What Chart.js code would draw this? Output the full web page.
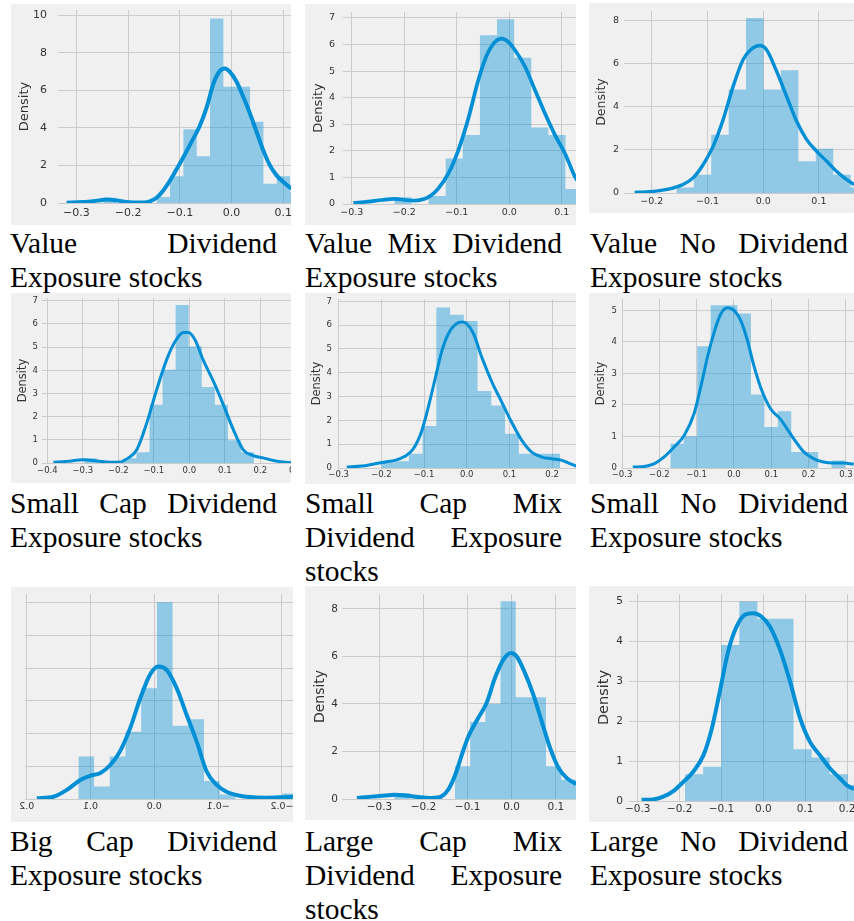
<!DOCTYPE html>
<html>
<head>
<meta charset="utf-8">
<script src="https://cdn.jsdelivr.net/npm/chart.js@4.4.1/dist/chart.umd.min.js"></script>
<style>
    body { margin: 0; background: #fff; width: 854px; height: 921px; position: relative; overflow: hidden; }
    .panel { position: absolute; background: #f0f0f0; overflow: hidden; }
    .cap {
        position: absolute;
        font-family: "Liberation Serif", "Times New Roman", Tinos, "DejaVu Serif", "Noto Serif", serif;
        font-size: 29.5px;
        line-height: 34px;
        text-align: justify;
        color: #000;
    }
</style>
</head>
<body>

<div class="cap" style="left:10px; top:226px; width:267px;">Value Dividend Exposure stocks</div>
<div class="cap" style="left:305px; top:226px; width:257px;">Value Mix Dividend Exposure stocks</div>
<div class="cap" style="left:590px; top:226px; width:258px;">Value No Dividend Exposure stocks</div>
<div class="cap" style="left:10px; top:486px; width:267px;">Small Cap Dividend Exposure stocks</div>
<div class="cap" style="left:305px; top:486px; width:257px;">Small Cap Mix Dividend Exposure stocks</div>
<div class="cap" style="left:590px; top:486px; width:258px;">Small No Dividend Exposure stocks</div>
<div class="cap" style="left:10px; top:824px; width:267px;">Big Cap Dividend Exposure stocks</div>
<div class="cap" style="left:305px; top:824px; width:257px;">Large Cap Mix Dividend Exposure stocks</div>
<div class="cap" style="left:590px; top:824px; width:258px;">Large No Dividend Exposure stocks</div>

<script>
/* 1. 데이터: 히스토그램 구간, 높이, KDE 곡선, 눈금 */

// Value Dividend
const valDivEdges = [-0.248, -0.2222, -0.1964, -0.1706, -0.1448, -0.119, -0.0932, -0.0674, -0.0416, -0.0158, 0.01, 0.0358, 0.0616, 0.0874, 0.1132, 0.139];
const valDivHist = [0.28, 0, 0, 0, 0.32, 1.42, 3.93, 2.49, 9.82, 6.18, 6.18, 4.32, 1.03, 1.42, 0.6];
const valDivKdeX = [-0.319, -0.287, -0.255, -0.242, -0.223, -0.203, -0.177, -0.158, -0.145, -0.132, -0.119, -0.1, -0.081, -0.061, -0.048, -0.035, -0.0226, -0.0129, -0.0032, 0.0097, 0.0226, 0.0355, 0.0484, 0.0613, 0.0742, 0.087, 0.1, 0.116, 0.126];
const valDivKdeY = [0.02, 0.05, 0.14, 0.18, 0.14, 0.05, 0.02, 0.09, 0.28, 0.67, 1.2, 2.1, 3.07, 4.14, 5.1, 6.36, 7.03, 7.16, 6.98, 6.45, 5.65, 4.76, 3.78, 2.8, 2.0, 1.47, 1.12, 0.76, 0.59];
const valDivXTicks = [-0.3, -0.2, -0.1, 0.0, 0.1];
const valDivYTicks = [0, 2, 4, 6, 8, 10];

// Value Mix Dividend
const valMixEdges = [-0.219, -0.1864, -0.1538, -0.1212, -0.0886, -0.056, -0.0234, 0.0092, 0.0418, 0.0744, 0.107, 0.1396];
const valMixHist = [0.25, 0, 0.3, 1.71, 2.59, 6.35, 6.95, 5.5, 2.88, 2.59, 0.56];
const valMixKdeX = [-0.297, -0.269, -0.243, -0.218, -0.199, -0.18, -0.161, -0.148, -0.135, -0.116, -0.097, -0.078, -0.059, -0.043, -0.027, -0.015, -0.002, 0.011, 0.03, 0.049, 0.068, 0.087, 0.106, 0.125, 0.138];
const valMixKdeY = [0.04, 0.09, 0.15, 0.19, 0.15, 0.13, 0.2, 0.34, 0.59, 1.15, 2.03, 3.22, 4.66, 5.59, 6.1, 6.22, 6.1, 5.78, 5.16, 4.28, 3.4, 2.59, 1.9, 1.03, 0.65];
const valMixXTicks = [-0.3, -0.2, -0.1, 0.0, 0.1];
const valMixYTicks = [0, 1, 2, 3, 4, 5, 6, 7];

// Value No Dividend
const valNoEdges = [-0.156, -0.1247, -0.0934, -0.0621, -0.0308, 0.0005, 0.0318, 0.0631, 0.0944, 0.1257, 0.157, 0.1883];
const valNoHist = [0.26, 0.85, 2.7, 4.79, 8.1, 4.79, 5.68, 1.47, 2.05, 0.85, 0.26];
const valNoKdeX = [-0.231, -0.21, -0.186, -0.162, -0.144, -0.126, -0.108, -0.09, -0.072, -0.054, -0.036, -0.021, -0.006, 0.006, 0.024, 0.042, 0.06, 0.078, 0.096, 0.114, 0.132, 0.15, 0.163, 0.174];
const valNoKdeY = [0.03, 0.05, 0.11, 0.23, 0.39, 0.7, 1.31, 2.16, 3.4, 4.94, 6.18, 6.67, 6.83, 6.64, 5.64, 4.48, 3.32, 2.47, 1.93, 1.47, 1.0, 0.62, 0.39, 0.28];
const valNoXTicks = [-0.2, -0.1, 0.0, 0.1];
const valNoYTicks = [0, 2, 4, 6, 8];

// Small Cap Dividend
const smallDivEdges = [-0.2961, -0.2593, -0.2225, -0.1857, -0.1489, -0.1121, -0.0753, -0.0385, -0.0017, 0.0351, 0.0719, 0.1087, 0.1455, 0.1823];
const smallDivHist = [0.2, 0, 0, 0.2, 0.46, 2.51, 4.02, 6.82, 5.03, 3.28, 2.51, 0.98, 0.46];
const smallDivKdeX = [-0.383, -0.345, -0.299, -0.261, -0.223, -0.195, -0.172, -0.148, -0.12, -0.092, -0.064, -0.04, -0.017, -0.003, 0.016, 0.039, 0.068, 0.096, 0.124, 0.152, 0.18, 0.208, 0.237, 0.265, 0.288];
const smallDivKdeY = [0.03, 0.07, 0.14, 0.09, 0.03, 0.04, 0.22, 0.57, 1.72, 3.16, 4.45, 5.24, 5.63, 5.63, 5.32, 4.45, 3.52, 2.51, 1.44, 0.57, 0.32, 0.22, 0.11, 0.04, 0.01];
const smallDivXTicks = [-0.4, -0.3, -0.2, -0.1, 0.0, 0.1, 0.2, 0.3];
const smallDivYTicks = [0, 1, 2, 3, 4, 5, 6, 7];

// Small Cap Mix Dividend
const smallMixEdges = [-0.2, -0.1678, -0.1356, -0.1034, -0.0712, -0.039, -0.0068, 0.0254, 0.0576, 0.0898, 0.122, 0.1542, 0.1864, 0.2186];
const smallMixHist = [0.22, 0.28, 0.6, 1.76, 6.74, 6.44, 6.18, 3.24, 2.63, 1.44, 0.6, 0.6, 0.6];
const smallMixKdeX = [-0.281, -0.246, -0.215, -0.191, -0.168, -0.145, -0.125, -0.105, -0.09, -0.074, -0.059, -0.043, -0.027, -0.012, 0.0, 0.016, 0.035, 0.059, 0.082, 0.105, 0.129, 0.152, 0.176, 0.199, 0.223, 0.242, 0.258];
const smallMixKdeY = [0.04, 0.08, 0.18, 0.25, 0.32, 0.49, 0.81, 1.58, 2.56, 3.75, 4.87, 5.64, 6.02, 6.13, 6.06, 5.64, 4.66, 3.61, 2.77, 1.93, 1.16, 0.67, 0.46, 0.39, 0.32, 0.18, 0.07];
const smallMixXTicks = [-0.3, -0.2, -0.1, 0.0, 0.1, 0.2];
const smallMixYTicks = [0, 1, 2, 3, 4, 5, 6, 7];

// Small No Dividend
const smallNoEdges = [-0.1705, -0.1345, -0.0985, -0.0625, -0.0265, 0.0095, 0.0455, 0.0815, 0.1175, 0.1535, 0.1895, 0.2255, 0.2615, 0.2975];
const smallNoHist = [0.77, 1.01, 3.86, 5.16, 5.16, 4.9, 2.33, 1.3, 1.8, 0.51, 0.51, 0, 0.24];
const smallNoKdeX = [-0.271, -0.24, -0.213, -0.187, -0.16, -0.133, -0.107, -0.089, -0.071, -0.053, -0.036, -0.018, 0.0, 0.018, 0.036, 0.053, 0.071, 0.098, 0.124, 0.142, 0.16, 0.187, 0.213, 0.24, 0.266, 0.293, 0.321];
const smallNoKdeY = [0.03, 0.05, 0.14, 0.35, 0.67, 1.04, 1.72, 2.57, 3.52, 4.31, 4.87, 5.08, 5.0, 4.68, 4.05, 3.26, 2.57, 1.88, 1.56, 1.25, 0.93, 0.51, 0.3, 0.19, 0.16, 0.16, 0.12];
const smallNoXTicks = [-0.3, -0.2, -0.1, 0.0, 0.1, 0.2, 0.3];
const smallNoYTicks = [0, 1, 2, 3, 4, 5];

// Big Cap Dividend (원본 그림이 좌우 반전되어 있음)
const bigDivEdges = [-0.2254, -0.2008, -0.1762, -0.1516, -0.127, -0.1024, -0.0778, -0.0532, -0.0286, -0.004, 0.0206, 0.0452, 0.0698, 0.0944, 0.119];
const bigDivHist = [0.17, 0, 0, 0, 0.14, 0.55, 2.44, 2.24, 6.02, 3.39, 2.06, 1.3, 0.38, 1.3];
const bigDivKdeX = [-0.218, -0.197, -0.176, -0.155, -0.134, -0.113, -0.0977, -0.082, -0.0663, -0.0507, -0.035, -0.0193, -0.0063, 0.0068, 0.022, 0.038, 0.054, 0.069, 0.085, 0.101, 0.116, 0.137, 0.158, 0.184];
const bigDivKdeY = [0.07, 0.05, 0.04, 0.05, 0.1, 0.22, 0.43, 0.84, 1.76, 2.57, 3.39, 3.95, 4.05, 3.8, 3.08, 2.16, 1.45, 1.04, 0.79, 0.71, 0.58, 0.28, 0.07, 0.02];
const bigDivXTicks = [-0.2, -0.1, 0.0, 0.1, 0.2];
const bigDivYTicks = [0, 1, 2, 3, 4, 5, 6];

// Large Cap Mix Dividend
const largeMixEdges = [-0.2661, -0.2317, -0.1973, -0.1629, -0.1285, -0.0941, -0.0597, -0.0253, 0.0091, 0.0435, 0.0779, 0.1123, 0.1467];
const largeMixHist = [0.25, 0, 0, 0, 1.38, 3.24, 4.01, 8.32, 4.28, 4.28, 1.38, 0.81];
const largeMixKdeX = [-0.351, -0.317, -0.287, -0.265, -0.242, -0.212, -0.181, -0.159, -0.144, -0.128, -0.113, -0.098, -0.076, -0.057, -0.038, -0.019, -0.0015, 0.011, 0.03, 0.049, 0.068, 0.087, 0.106, 0.125, 0.146];
const largeMixKdeY = [0.04, 0.1, 0.15, 0.18, 0.15, 0.08, 0.04, 0.11, 0.39, 1.02, 1.87, 2.64, 3.41, 4.04, 5.09, 5.87, 6.15, 6.01, 5.31, 4.39, 3.27, 2.15, 1.31, 0.88, 0.63];
const largeMixXTicks = [-0.3, -0.2, -0.1, 0.0, 0.1];
const largeMixYTicks = [0, 2, 4, 6, 8];

// Large No Dividend
const largeNoEdges = [-0.187, -0.1438, -0.1006, -0.0574, -0.0142, 0.029, 0.0722, 0.1154, 0.1586, 0.2018, 0.245];
const largeNoHist = [0.67, 0.86, 3.91, 5.0, 4.57, 4.57, 1.3, 1.09, 0.67, 0.4];
const largeNoKdeX = [-0.291, -0.263, -0.239, -0.215, -0.191, -0.167, -0.143, -0.123, -0.104, -0.084, -0.064, -0.044, -0.024, -0.004, 0.016, 0.04, 0.064, 0.088, 0.111, 0.135, 0.159, 0.183, 0.199, 0.217];
const largeNoKdeY = [0.03, 0.04, 0.11, 0.25, 0.48, 0.74, 1.15, 1.82, 2.74, 3.75, 4.37, 4.67, 4.71, 4.62, 4.37, 3.79, 2.99, 2.07, 1.49, 1.15, 0.82, 0.57, 0.4, 0.3];
const largeNoXTicks = [-0.3, -0.2, -0.1, 0.0, 0.1, 0.2];
const largeNoYTicks = [0, 1, 2, 3, 4, 5];

/* 2. 패널 배치 (페이지 좌표 / 축 범위 / 글꼴 크기) */
const panels = [
    { edges: valDivEdges, hist: valDivHist, kx: valDivKdeX, ky: valDivKdeY, xt: valDivXTicks, yt: valDivYTicks,
      rect: [11, 4, 280, 221], area: { left: 47, top: 6, bottom: 199 }, x: [-0.3356, 0.1149], y: [0, 10.27],
      tick: 11, title: 13, titlePad: 5.5, xPad: 4, yPad: 11, lw: 4 },
    { edges: valMixEdges, hist: valMixHist, kx: valMixKdeX, ky: valMixKdeY, xt: valMixXTicks, yt: valMixYTicks,
      rect: [305, 4, 271, 221], area: { left: 38, top: 8, bottom: 200 }, x: [-0.3168, 0.127], y: [0, 7.22],
      tick: 9.5, title: 13, titlePad: 5.5, xPad: 3, yPad: 8, lw: 3.7 },
    { edges: valNoEdges, hist: valNoHist, kx: valNoKdeX, ky: valNoKdeY, xt: valNoXTicks, yt: valNoYTicks,
      rect: [589, 3, 265, 210], area: { left: 35, top: 8, bottom: 190 }, x: [-0.25, 0.163], y: [0, 8.43],
      tick: 9.5, title: 12.5, titlePad: 5.2, xPad: 3.3, yPad: 5, lw: 3.4 },
    { edges: smallDivEdges, hist: smallDivHist, kx: smallDivKdeX, ky: smallDivKdeY, xt: smallDivXTicks, yt: smallDivYTicks,
      rect: [11, 293, 280, 190], area: { left: 31, top: 5, bottom: 170 }, x: [-0.415, 0.2865], y: [0, 7.12],
      tick: 8.5, title: 11.5, titlePad: 4.8, xPad: 3, yPad: 4, lw: 3 },
    { edges: smallMixEdges, hist: smallMixHist, kx: smallMixKdeX, ky: smallMixKdeY, xt: smallMixXTicks, yt: smallMixYTicks,
      rect: [305, 293, 271, 191], area: { left: 33, top: 6, bottom: 175 }, x: [-0.3016, 0.256], y: [0, 7.1],
      tick: 8.5, title: 11.5, titlePad: 4.8, xPad: 1.5, yPad: 6, lw: 3 },
    { edges: smallNoEdges, hist: smallNoHist, kx: smallNoKdeX, ky: smallNoKdeY, xt: smallNoXTicks, yt: smallNoYTicks,
      rect: [589, 293, 265, 191], area: { left: 33, top: 6, bottom: 175 }, x: [-0.3, 0.3216], y: [0, 5.36],
      tick: 8.5, title: 11.5, titlePad: 4.8, xPad: 1.5, yPad: 5, lw: 3 },
    { edges: bigDivEdges, hist: bigDivHist, kx: bigDivKdeX, ky: bigDivKdeY, xt: bigDivXTicks, yt: bigDivYTicks,
      rect: [11, 587, 282, 235], area: { left: 0, top: 7, bottom: 212, right: 14 }, x: [-0.2173, 0.2026], y: [0, 6.27],
      tick: 9.5, title: 0, titlePad: 0, xPad: 2, yPad: 0, lw: 4, mirror: true },
    { edges: largeMixEdges, hist: largeMixHist, kx: largeMixKdeX, ky: largeMixKdeY, xt: largeMixXTicks, yt: largeMixYTicks,
      rect: [305, 586, 271, 234], area: { left: 37, top: 8, bottom: 213 }, x: [-0.3848, 0.1458], y: [0, 8.63],
      tick: 10.5, title: 14, titlePad: 6.6, xPad: 2, yPad: 4, lw: 4 },
    { edges: largeNoEdges, hist: largeNoHist, kx: largeNoKdeX, ky: largeNoKdeY, xt: largeNoXTicks, yt: largeNoYTicks,
      rect: [589, 586, 265, 236], area: { left: 40, top: 8, bottom: 215 }, x: [-0.3209, 0.2166], y: [0, 5.19],
      tick: 10.5, title: 14.5, titlePad: 6.3, xPad: 2, yPad: 6, lw: 4 }
];

Chart.defaults.font.family = "'DejaVu Sans', sans-serif";

// 마이너스 기호는 matplotlib처럼 유니코드 '−' 사용
function fmtTick(v) {
    const s = Math.abs(v).toFixed(1);
    return v < -1e-9 ? '\u2212' + s : s;
}

function drawPanel(p) {
    const box = document.createElement('div');
    box.className = 'panel';
    box.style.left = p.rect[0] + 'px';
    box.style.top = p.rect[1] + 'px';
    box.style.width = p.rect[2] + 'px';
    box.style.height = p.rect[3] + 'px';
    if (p.mirror) box.style.transform = 'scaleX(-1)';
    const canvas = document.createElement('canvas');
    box.appendChild(canvas);
    document.body.appendChild(box);

    // 계단형 라인 + fill 로 히스토그램 막대 표현
    const histData = p.edges.map((e, i) => ({ x: e, y: i < p.hist.length ? p.hist[i] : 0 }));
    const kdeData = p.kx.map((x, i) => ({ x: x, y: p.ky[i] }));
    const showY = !p.mirror;

    new Chart(canvas, {
        type: 'line',
        data: {
            datasets: [
                {
                    data: kdeData,
                    borderColor: '#008fd5',
                    borderWidth: p.lw,
                    pointRadius: 0,
                    cubicInterpolationMode: 'monotone',
                    fill: false,
                    clip: 0
                },
                {
                    data: histData,
                    stepped: true,
                    fill: 'origin',
                    backgroundColor: 'rgba(0, 143, 213, 0.4)',
                    borderColor: 'transparent',
                    borderWidth: 0,
                    pointRadius: 0
                }
            ]
        },
        options: {
            responsive: true,
            maintainAspectRatio: false,
            animation: false,
            layout: { padding: { top: p.area.top, left: 0, right: p.area.right || 0, bottom: 0 } },
            plugins: { legend: { display: false }, tooltip: { enabled: false } },
            scales: {
                x: {
                    type: 'linear',
                    min: p.x[0],
                    max: p.x[1],
                    afterBuildTicks: s => { s.ticks = p.xt.map(v => ({ value: v })); },
                    afterFit: s => {
                        s.height = p.rect[3] - p.area.bottom;
                        s.paddingLeft = 0;
                        s.paddingRight = 0;
                    },
                    grid: { color: '#cbcbcb', lineWidth: 1, drawTicks: false },
                    border: { display: false },
                    ticks: {
                        autoSkip: false,
                        maxRotation: 0,
                        padding: p.xPad,
                        color: '#333',
                        font: { size: p.tick },
                        callback: v => fmtTick(v)
                    }
                },
                y: {
                    min: p.y[0],
                    max: p.y[1],
                    afterBuildTicks: s => { s.ticks = p.yt.map(v => ({ value: v })); },
                    afterFit: s => {
                        s.width = p.area.left;
                        s.paddingTop = 0;
                        s.paddingBottom = 0;
                    },
                    grid: { color: '#cbcbcb', lineWidth: 1, drawTicks: false },
                    border: { display: false },
                    ticks: {
                        display: showY,
                        padding: p.yPad,
                        color: '#333',
                        font: { size: p.tick },
                        callback: v => String(v)
                    },
                    title: {
                        display: showY,
                        text: 'Density',
                        color: '#333',
                        font: { size: p.title || 12 },
                        padding: { top: p.titlePad, bottom: 0 }
                    }
                }
            }
        }
    });
}

panels.forEach(drawPanel);
</script>
</body>
</html>
